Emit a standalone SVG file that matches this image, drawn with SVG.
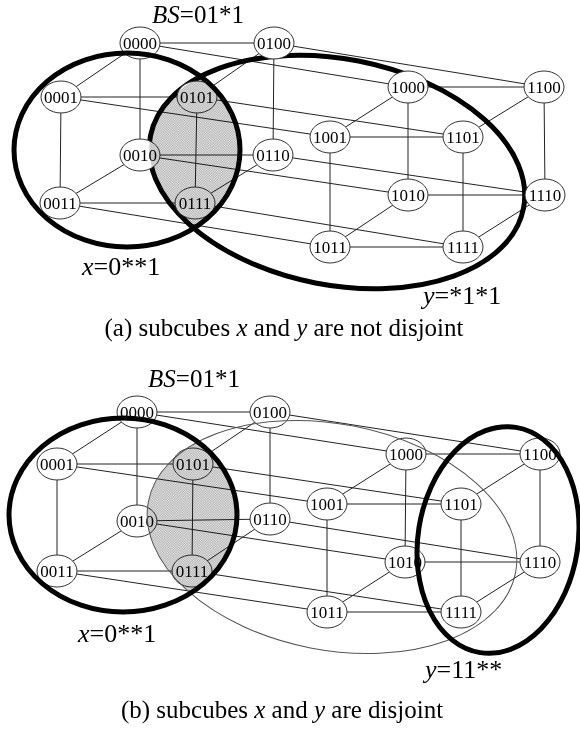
<svg xmlns="http://www.w3.org/2000/svg" width="580" height="731" viewBox="0 0 580 731">
<style>
.e line{stroke:#222;stroke-width:1}
.n ellipse{fill:#fff;stroke:#333;stroke-width:1}
.n text{font-family:"Liberation Serif","Times New Roman",serif;font-size:17px;text-anchor:middle;fill:#000}
.thick{fill:none;stroke:#000;stroke-width:5}
.thin{fill:none;stroke:#555;stroke-width:1}
.lbl{font-family:"Liberation Serif","Times New Roman",serif;font-size:26px;fill:#000}
.bs{font-family:"Liberation Serif","Times New Roman",serif;font-size:25px;fill:#000}
.cap{font-family:"Liberation Serif","Times New Roman",serif;font-size:25px;fill:#000;text-anchor:middle}
.lens{mix-blend-mode:multiply}
</style>
<defs>
<pattern id="dots" width="2" height="2" patternUnits="userSpaceOnUse">
<rect width="2" height="2" fill="#eeeeee"/>
<rect width="1" height="1" fill="#a8a8a8"/>
<rect x="1" y="1" width="1" height="1" fill="#a8a8a8"/>
</pattern>
<clipPath id="clipXa"><ellipse cx="127" cy="150" rx="113" ry="97"/></clipPath>
<clipPath id="clipXb"><ellipse cx="123" cy="515" rx="114" ry="97"/></clipPath>
</defs>
<rect width="580" height="731" fill="#fff"/>

<!-- ===== (a) ===== -->
<g id="edges-a" class="e">
<line x1="140" y1="43" x2="274" y2="43"/>
<line x1="140" y1="43" x2="61" y2="97"/>
<line x1="140" y1="43" x2="140" y2="155"/>
<line x1="61" y1="97" x2="197" y2="97"/>
<line x1="61" y1="97" x2="60" y2="203"/>
<line x1="140" y1="155" x2="273" y2="155"/>
<line x1="140" y1="155" x2="60" y2="203"/>
<line x1="60" y1="203" x2="195" y2="203"/>
<line x1="274" y1="43" x2="197" y2="97"/>
<line x1="274" y1="43" x2="273" y2="155"/>
<line x1="197" y1="97" x2="195" y2="203"/>
<line x1="273" y1="155" x2="195" y2="203"/>
<line x1="408" y1="87" x2="544" y2="87"/>
<line x1="408" y1="87" x2="330" y2="137"/>
<line x1="408" y1="87" x2="408" y2="195"/>
<line x1="330" y1="137" x2="463" y2="137"/>
<line x1="330" y1="137" x2="330" y2="247"/>
<line x1="408" y1="195" x2="545" y2="195"/>
<line x1="408" y1="195" x2="330" y2="247"/>
<line x1="330" y1="247" x2="463" y2="247"/>
<line x1="544" y1="87" x2="463" y2="137"/>
<line x1="544" y1="87" x2="545" y2="195"/>
<line x1="463" y1="137" x2="463" y2="247"/>
<line x1="545" y1="195" x2="463" y2="247"/>
<line x1="140" y1="43" x2="408" y2="87"/>
<line x1="274" y1="43" x2="544" y2="87"/>
<line x1="61" y1="97" x2="330" y2="137"/>
<line x1="197" y1="97" x2="463" y2="137"/>
<line x1="140" y1="155" x2="408" y2="195"/>
<line x1="273" y1="155" x2="545" y2="195"/>
<line x1="60" y1="203" x2="330" y2="247"/>
<line x1="195" y1="203" x2="463" y2="247"/>
</g>
<ellipse id="subcube-y-a" class="thick" cx="0" cy="0" rx="190" ry="113" transform="translate(337 172) rotate(11)"/>
<g id="a-0000" class="n"><ellipse cx="140" cy="43" rx="20" ry="16"/><text x="140" y="49">0000</text></g>
<g id="a-0100" class="n"><ellipse cx="274" cy="43" rx="20" ry="16"/><text x="274" y="49">0100</text></g>
<g id="a-0001" class="n"><ellipse cx="61" cy="97" rx="20" ry="16"/><text x="61" y="103">0001</text></g>
<g id="a-0101" class="n"><ellipse cx="197" cy="97" rx="20" ry="16"/><text x="197" y="103">0101</text></g>
<g id="a-0010" class="n"><ellipse cx="140" cy="155" rx="20" ry="16"/><text x="140" y="161">0010</text></g>
<g id="a-0110" class="n"><ellipse cx="273" cy="155" rx="20" ry="16"/><text x="273" y="161">0110</text></g>
<g id="a-0011" class="n"><ellipse cx="60" cy="203" rx="20" ry="16"/><text x="60" y="209">0011</text></g>
<g id="a-0111" class="n"><ellipse cx="195" cy="203" rx="20" ry="16"/><text x="195" y="209">0111</text></g>
<g id="a-1000" class="n"><ellipse cx="408" cy="87" rx="20" ry="16"/><text x="408" y="93">1000</text></g>
<g id="a-1100" class="n"><ellipse cx="544" cy="87" rx="20" ry="16"/><text x="544" y="93">1100</text></g>
<g id="a-1001" class="n"><ellipse cx="330" cy="137" rx="20" ry="16"/><text x="330" y="143">1001</text></g>
<g id="a-1101" class="n"><ellipse cx="463" cy="137" rx="20" ry="16"/><text x="463" y="143">1101</text></g>
<g id="a-1010" class="n"><ellipse cx="408" cy="195" rx="20" ry="16"/><text x="408" y="201">1010</text></g>
<g id="a-1110" class="n"><ellipse cx="545" cy="195" rx="20" ry="16"/><text x="545" y="201">1110</text></g>
<g id="a-1011" class="n"><ellipse cx="330" cy="247" rx="20" ry="16"/><text x="330" y="253">1011</text></g>
<g id="a-1111" class="n"><ellipse cx="463" cy="247" rx="20" ry="16"/><text x="463" y="253">1111</text></g>
<ellipse id="subcube-x-a" class="thick" cx="127" cy="150" rx="113" ry="97"/>
<g class="lens" clip-path="url(#clipXa)"><ellipse cx="0" cy="0" rx="190" ry="113" transform="translate(337 172) rotate(11)" fill="url(#dots)"/></g>
<text class="bs" x="152" y="23"><tspan font-style="italic">BS</tspan>=01*1</text>
<text class="lbl" x="82" y="275"><tspan font-style="italic">x</tspan>=0**1</text>
<text class="lbl" x="423" y="304"><tspan font-style="italic">y</tspan>=*1*1</text>
<text class="cap" x="284" y="336">(a) subcubes <tspan font-style="italic">x</tspan> and <tspan font-style="italic">y</tspan> are not disjoint</text>

<!-- ===== (b) ===== -->
<g id="edges-b" class="e">
<line x1="137" y1="412" x2="270" y2="412"/>
<line x1="137" y1="412" x2="57" y2="464"/>
<line x1="137" y1="412" x2="137" y2="521"/>
<line x1="57" y1="464" x2="193" y2="464"/>
<line x1="57" y1="464" x2="57" y2="571"/>
<line x1="137" y1="521" x2="270" y2="519"/>
<line x1="137" y1="521" x2="57" y2="571"/>
<line x1="57" y1="571" x2="192" y2="571"/>
<line x1="270" y1="412" x2="193" y2="464"/>
<line x1="270" y1="412" x2="270" y2="519"/>
<line x1="193" y1="464" x2="192" y2="571"/>
<line x1="270" y1="519" x2="192" y2="571"/>
<line x1="406" y1="454" x2="540" y2="454"/>
<line x1="406" y1="454" x2="327" y2="504"/>
<line x1="406" y1="454" x2="405" y2="562"/>
<line x1="327" y1="504" x2="461" y2="504"/>
<line x1="327" y1="504" x2="327" y2="612"/>
<line x1="405" y1="562" x2="540" y2="562"/>
<line x1="405" y1="562" x2="327" y2="612"/>
<line x1="327" y1="612" x2="461" y2="612"/>
<line x1="540" y1="454" x2="461" y2="504"/>
<line x1="540" y1="454" x2="540" y2="562"/>
<line x1="461" y1="504" x2="461" y2="612"/>
<line x1="540" y1="562" x2="461" y2="612"/>
<line x1="137" y1="412" x2="406" y2="454"/>
<line x1="270" y1="412" x2="540" y2="454"/>
<line x1="57" y1="464" x2="327" y2="504"/>
<line x1="193" y1="464" x2="461" y2="504"/>
<line x1="137" y1="521" x2="405" y2="562"/>
<line x1="270" y1="519" x2="540" y2="562"/>
<line x1="57" y1="571" x2="327" y2="612"/>
<line x1="192" y1="571" x2="461" y2="612"/>
</g>
<g id="b-0000" class="n"><ellipse cx="137" cy="412" rx="20" ry="16"/><text x="137" y="418">0000</text></g>
<g id="b-0100" class="n"><ellipse cx="270" cy="412" rx="20" ry="16"/><text x="270" y="418">0100</text></g>
<g id="b-0001" class="n"><ellipse cx="57" cy="464" rx="20" ry="16"/><text x="57" y="470">0001</text></g>
<g id="b-0101" class="n"><ellipse cx="193" cy="464" rx="20" ry="16"/><text x="193" y="470">0101</text></g>
<g id="b-0010" class="n"><ellipse cx="137" cy="521" rx="20" ry="16"/><text x="137" y="527">0010</text></g>
<g id="b-0110" class="n"><ellipse cx="270" cy="519" rx="20" ry="16"/><text x="270" y="525">0110</text></g>
<g id="b-0011" class="n"><ellipse cx="57" cy="571" rx="20" ry="16"/><text x="57" y="577">0011</text></g>
<g id="b-0111" class="n"><ellipse cx="192" cy="571" rx="20" ry="16"/><text x="192" y="577">0111</text></g>
<g id="b-1000" class="n"><ellipse cx="406" cy="454" rx="20" ry="16"/><text x="406" y="460">1000</text></g>
<g id="b-1100" class="n"><ellipse cx="540" cy="454" rx="20" ry="16"/><text x="540" y="460">1100</text></g>
<g id="b-1001" class="n"><ellipse cx="327" cy="504" rx="20" ry="16"/><text x="327" y="510">1001</text></g>
<g id="b-1101" class="n"><ellipse cx="461" cy="504" rx="20" ry="16"/><text x="461" y="510">1101</text></g>
<g id="b-1010" class="n"><ellipse cx="405" cy="562" rx="20" ry="16"/><text x="405" y="568">1010</text></g>
<g id="b-1110" class="n"><ellipse cx="540" cy="562" rx="20" ry="16"/><text x="540" y="568">1110</text></g>
<g id="b-1011" class="n"><ellipse cx="327" cy="612" rx="20" ry="16"/><text x="327" y="618">1011</text></g>
<g id="b-1111" class="n"><ellipse cx="461" cy="612" rx="20" ry="16"/><text x="461" y="618">1111</text></g>
<g class="lens" clip-path="url(#clipXb)"><ellipse cx="0" cy="0" rx="187" ry="113" transform="translate(332 537) rotate(11)" fill="url(#dots)"/></g>
<ellipse id="old-y-b" class="thin" cx="0" cy="0" rx="187" ry="113" transform="translate(332 537) rotate(11)"/>
<ellipse id="subcube-x-b" class="thick" cx="123" cy="515" rx="114" ry="97"/>
<ellipse id="subcube-y-b" class="thick" cx="0" cy="0" rx="80" ry="114" transform="translate(498 540) rotate(9)"/>
<text class="bs" x="148" y="387"><tspan font-style="italic">BS</tspan>=01*1</text>
<text class="lbl" x="78" y="642"><tspan font-style="italic">x</tspan>=0**1</text>
<text class="lbl" x="425" y="678"><tspan font-style="italic">y</tspan>=11**</text>
<text class="cap" x="282" y="718">(b) subcubes <tspan font-style="italic">x</tspan> and <tspan font-style="italic">y</tspan> are disjoint</text>
</svg>
